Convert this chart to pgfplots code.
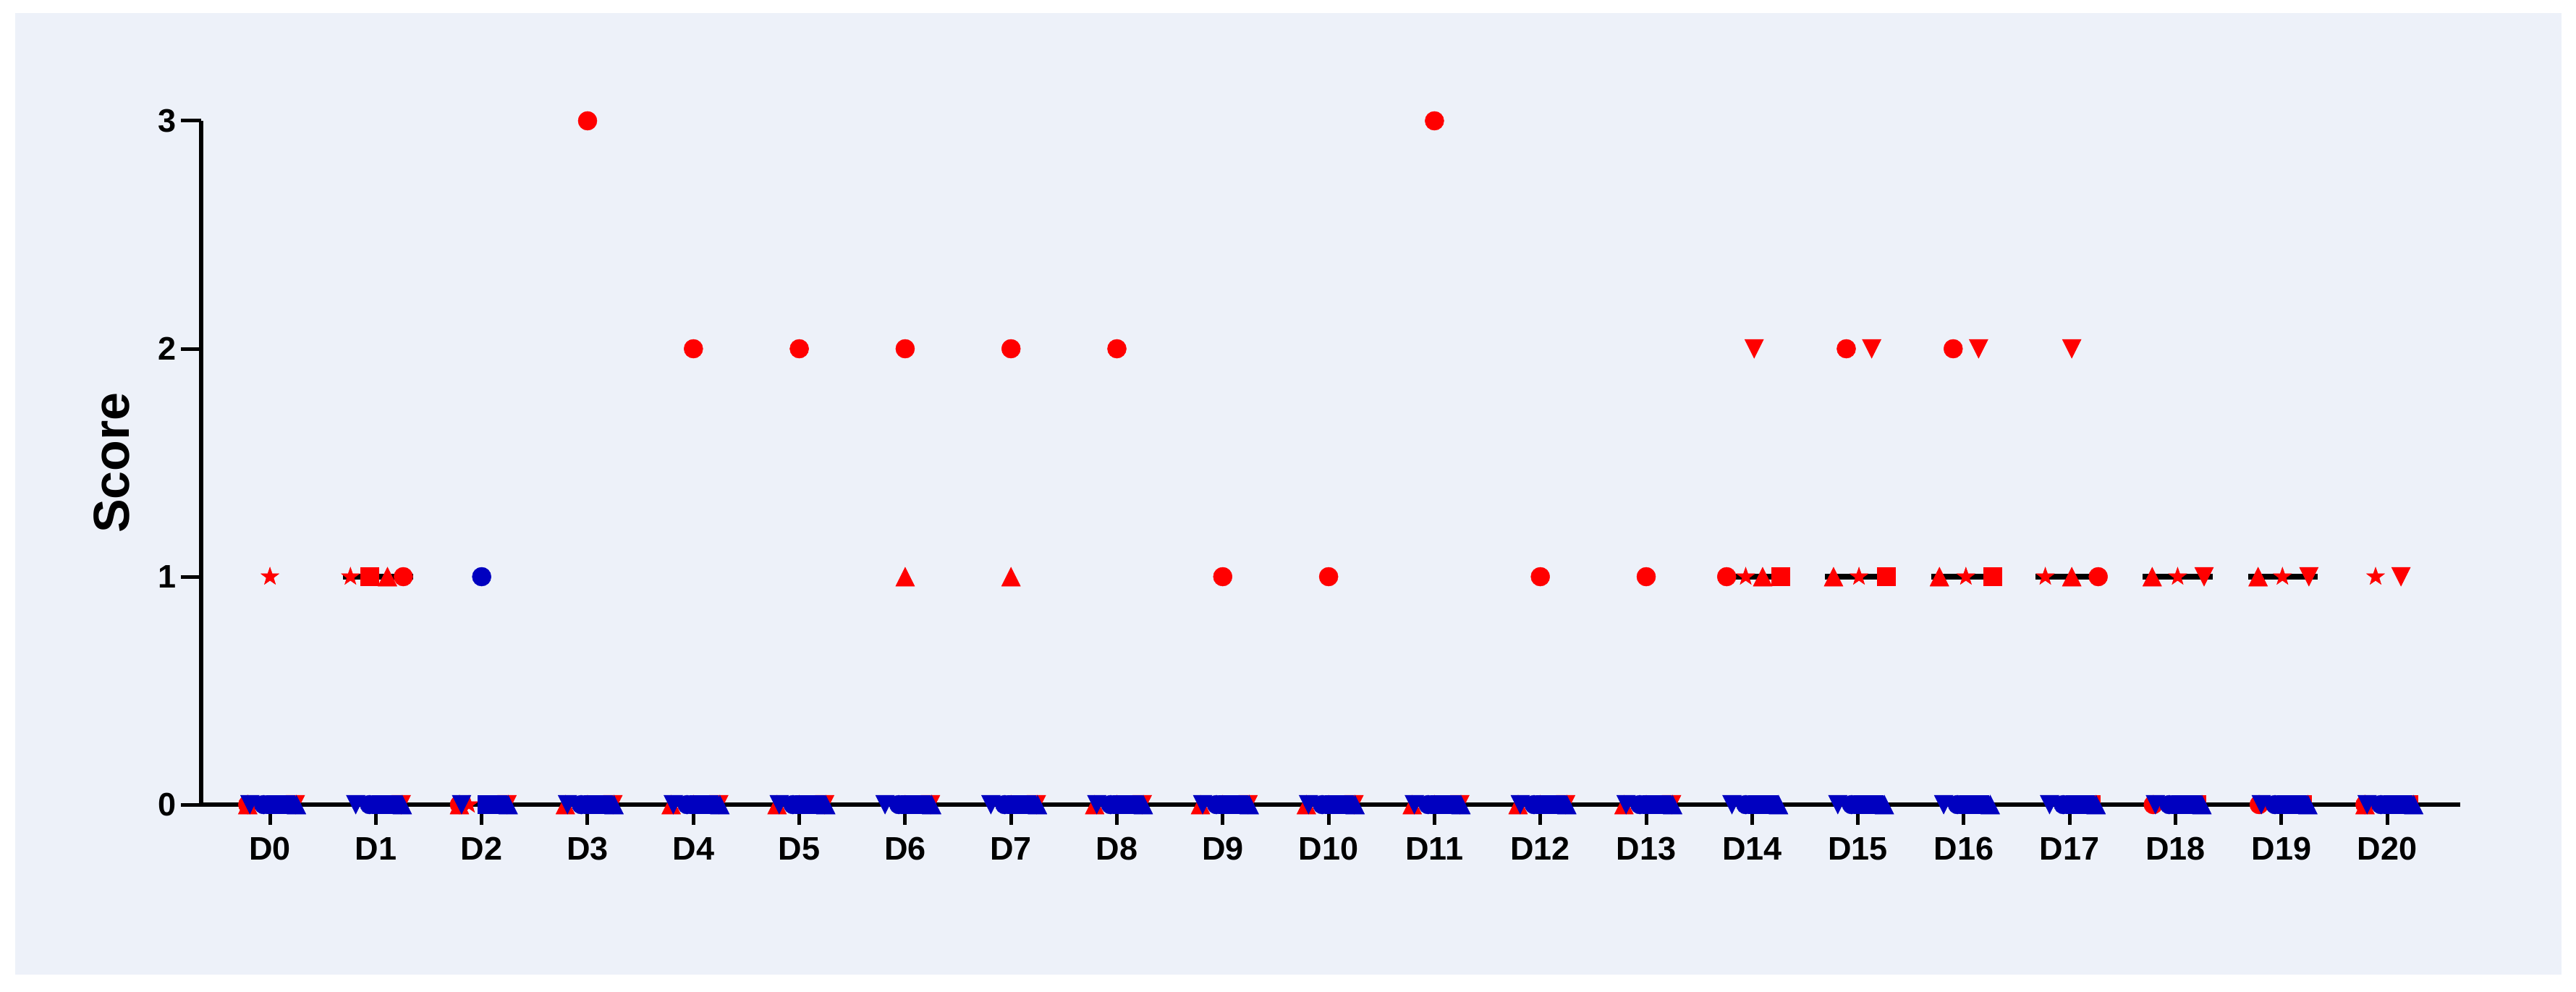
\documentclass[border=0pt]{standalone}
\usepackage{pgfplots}
\pgfplotsset{compat=1.18}
\usepackage{fontspec}
\setmainfont{Liberation Sans}
\definecolor{panel}{RGB}{237,241,249}
\definecolor{pred}{RGB}{255,0,0}
\definecolor{pblue}{RGB}{0,0,192}

\pgfdeclareplotmark{ptri}{%
  \pgfpathmoveto{\pgfpoint{0pt}{\pgfplotmarksize}}%
  \pgfpathlineto{\pgfpoint{-\pgfplotmarksize}{-\pgfplotmarksize}}%
  \pgfpathlineto{\pgfpoint{\pgfplotmarksize}{-\pgfplotmarksize}}%
  \pgfpathclose\pgfusepathqfillstroke}
\pgfdeclareplotmark{ptridown}{%
  \pgfpathmoveto{\pgfpoint{0pt}{-\pgfplotmarksize}}%
  \pgfpathlineto{\pgfpoint{-\pgfplotmarksize}{\pgfplotmarksize}}%
  \pgfpathlineto{\pgfpoint{\pgfplotmarksize}{\pgfplotmarksize}}%
  \pgfpathclose\pgfusepathqfillstroke}
\pgfdeclareplotmark{pstar}{%
  \pgfpathmoveto{\pgfpointpolar{90}{\pgfplotmarksize}}%
  \pgfpathlineto{\pgfpointpolar{126}{0.40\pgfplotmarksize}}%
  \pgfpathlineto{\pgfpointpolar{162}{\pgfplotmarksize}}%
  \pgfpathlineto{\pgfpointpolar{198}{0.40\pgfplotmarksize}}%
  \pgfpathlineto{\pgfpointpolar{234}{\pgfplotmarksize}}%
  \pgfpathlineto{\pgfpointpolar{270}{0.40\pgfplotmarksize}}%
  \pgfpathlineto{\pgfpointpolar{306}{\pgfplotmarksize}}%
  \pgfpathlineto{\pgfpointpolar{342}{0.40\pgfplotmarksize}}%
  \pgfpathlineto{\pgfpointpolar{18}{\pgfplotmarksize}}%
  \pgfpathlineto{\pgfpointpolar{54}{0.40\pgfplotmarksize}}%
  \pgfpathclose\pgfusepathqfillstroke}

\pgfplotsset{
  rmark/.style={only marks, color=pred, mark options={fill=pred, draw=pred, line width=0.1pt, solid}},
  bmark/.style={only marks, color=pblue, mark options={fill=pblue, draw=pblue, line width=0.1pt, solid}},
  med/.style={black, line width=1.6pt, no marks},
}

\begin{document}
\begin{tikzpicture}
\useasboundingbox (0pt,0pt) rectangle (712pt,274pt);
\fill[panel] (4.2pt,4.6pt) rectangle (708pt,270.4pt);
\begin{axis}[
  at={(55.6pt,51.6pt)}, anchor=south west,
  x=29.26pt, y=63pt,
  xmin=-0.65, xmax=20.69, ymin=0, ymax=3,
  clip=false, axis on top,
  axis x line*=bottom, axis y line*=left,
  axis line style={line width=1.1pt, black},
  tick align=outside, major tick length=5.5pt,
  tick style={line width=1pt, black},
  xtick={0,1,2,3,4,5,6,7,8,9,10,11,12,13,14,15,16,17,18,19,20},
  xticklabels={D0,D1,D2,D3,D4,D5,D6,D7,D8,D9,D10,D11,D12,D13,D14,D15,D16,D17,D18,D19,D20},
  ytick={0,1,2,3}, yticklabels={0,1,2,3},
  ticklabel style={font=\fontsize{9}{9}\selectfont\bfseries},
  yticklabel style={anchor=east, inner sep=0pt, xshift=-1.2pt},
  xticklabel style={anchor=north, inner sep=0pt, yshift=-3.4pt},
  ylabel={Score},
  every axis y label/.style={at={(axis description cs:-0.0397,0.5)}, rotate=90, anchor=center, font=\fontsize{14}{14}\selectfont\bfseries},
]
% red group (drawn below)
\addplot[rmark, mark=ptri, mark size=2.6pt] coordinates {
(-0.21,0) (1.11,1) (1.79,0) (2.79,0) (3.79,0) (4.79,0) (6,1) (7,1) (7.79,0) (8.79,0) (9.79,0) (10.79,0) (11.79,0) (12.79,0) (14.10,1) (14.77,1) (15.77,1) (17.02,1) (17.78,1) (18.78,1) (19.79,0)};
\addplot[rmark, mark=*, mark size=2.6pt] coordinates {
(-0.21,0) (1.26,1) (1.79,0) (3,3) (4,2) (5,2) (6,2) (7,2) (8,2) (9,1) (10,1) (11,3) (12,1) (13,1) (13.76,1) (14.89,2) (15.90,2) (17.27,1) (17.79,0) (18.79,0) (19.79,0)};
\addplot[rmark, mark=pstar, mark size=2.6pt] coordinates {
(0,1) (0.76,1) (1.88,0) (3,0) (4,0) (5,0) (6,0) (7,0) (8,0) (9,0) (10,0) (11,0) (12,0) (13,0) (13.94,1) (15.01,1) (16.02,1) (16.77,1) (18.02,1) (19.01,1) (19.89,1)};
\addplot[rmark, mark=square*, mark size=2.5pt] coordinates {
(0.20,0) (0.94,1) (2.20,0) (3.20,0) (4.20,0) (5.20,0) (6.20,0) (7.20,0) (8.20,0) (9.20,0) (10.20,0) (11.20,0) (12.20,0) (13.20,0) (14.27,1) (15.27,1) (16.27,1) (17.20,0) (18.20,0) (19.20,0) (20.20,0)};
\addplot[rmark, mark=ptridown, mark size=2.6pt] coordinates {
(0.24,0) (1.24,0) (2.24,0) (3.24,0) (4.24,0) (5.24,0) (6.24,0) (7.24,0) (8.24,0) (9.24,0) (10.24,0) (11.24,0) (12.24,0) (13.24,0) (14.02,2) (15.13,2) (16.14,2) (17.02,2) (18.27,1) (19.26,1) (20.13,1)};
% blue group (drawn on top)
\addplot[bmark, mark=ptridown, mark size=2.6pt] coordinates {
(-0.19,0) (0.81,0) (1.81,0) (2.81,0) (3.81,0) (4.81,0) (5.81,0) (6.81,0) (7.81,0) (8.81,0) (9.81,0) (10.81,0) (11.81,0) (12.81,0) (13.81,0) (14.81,0) (15.81,0) (16.81,0) (17.81,0) (18.81,0) (19.81,0)};
\addplot[bmark, mark=*, mark size=2.6pt] coordinates {
(-0.06,0) (0.94,0) (2,1) (2.94,0) (3.94,0) (4.94,0) (5.94,0) (6.94,0) (7.94,0) (8.94,0) (9.94,0) (10.94,0) (11.94,0) (12.94,0) (13.94,0) (14.94,0) (15.94,0) (16.94,0) (17.94,0) (18.94,0) (19.94,0)};
\addplot[bmark, mark=square*, mark size=2.5pt] coordinates {
(0.05,0) (0.15,0) (1.05,0) (1.15,0) (2.05,0) (2.15,0) (3.05,0) (3.15,0) (4.05,0) (4.15,0) (5.05,0) (5.15,0) (6.05,0) (6.15,0) (7.05,0) (7.15,0) (8.05,0) (8.15,0) (9.05,0) (9.15,0) (10.05,0) (10.15,0) (11.05,0) (11.15,0) (12.05,0) (12.15,0) (13.05,0) (13.15,0) (14.05,0) (14.15,0) (15.05,0) (15.15,0) (16.05,0) (16.15,0) (17.05,0) (17.15,0) (18.05,0) (18.15,0) (19.05,0) (19.15,0) (20.05,0) (20.15,0)};
\addplot[bmark, mark=ptri, mark size=2.6pt] coordinates {
(0.25,0) (1.25,0) (2.25,0) (3.25,0) (4.25,0) (5.25,0) (6.25,0) (7.25,0) (8.25,0) (9.25,0) (10.25,0) (11.25,0) (12.25,0) (13.25,0) (14.25,0) (15.25,0) (16.25,0) (17.25,0) (18.25,0) (19.25,0) (20.25,0)};
% medians
\addplot[med] coordinates {(0.69,1) (1.35,1)};
\addplot[med] coordinates {(13.68,1) (14.35,1)};
\addplot[med] coordinates {(14.69,1) (15.35,1)};
\addplot[med] coordinates {(15.69,1) (16.35,1)};
\addplot[med] coordinates {(16.68,1) (17.35,1)};
\addplot[med] coordinates {(17.69,1) (18.35,1)};
\addplot[med] coordinates {(18.69,1) (19.34,1)};
\end{axis}
\end{tikzpicture}
\end{document}
